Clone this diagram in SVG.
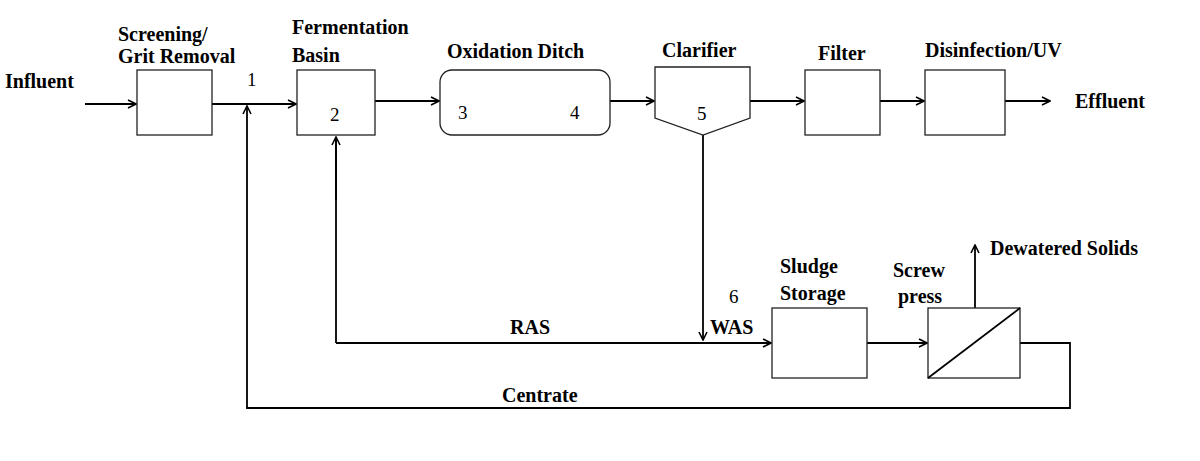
<svg xmlns="http://www.w3.org/2000/svg" width="1200" height="461" viewBox="0 0 1200 461">
<style>
.b{fill:#fff;stroke:#222;stroke-width:1.3}
.l{fill:none;stroke:#000;stroke-width:1.8;marker-end:url(#a)}
.n{fill:none;stroke:#000;stroke-width:1.8}
text{font-family:"Liberation Serif","Times New Roman","DejaVu Serif",serif;font-size:20px;font-weight:bold;fill:#000}
.r{font-weight:normal;font-size:19px}
</style>
<defs><marker id="a" markerWidth="10" markerHeight="10" refX="9" refY="5" orient="auto" markerUnits="userSpaceOnUse"><path d="M1,1 L9,5 L1,9" fill="none" stroke="#000" stroke-width="1.6"/></marker></defs>
<rect width="1200" height="461" fill="#fff"/>
<g id="connectors">
<path class="l" d="M85,104 H136"/>
<path class="l" d="M212,104 H296"/>
<path class="l" d="M375,101 H439"/>
<path class="l" d="M610,101 H654"/>
<path class="l" d="M750,101 H804"/>
<path class="l" d="M880,101 H924"/>
<path class="l" d="M1005,101 H1050"/>
<path class="l" d="M703,135 V340"/>
<path class="n" d="M336,343 V138"/><path class="l" d="M336,200 V137"/>
<path class="l" d="M336,343 H771"/>
<path class="l" d="M867,343 H927"/>
<path class="l" d="M975,308 V245"/>
<path class="n" d="M1020,343 H1070 V408 H247 V150"/><path class="l" d="M247,150 V106"/>
</g>
<g id="screening"><rect class="b" x="137" y="70" width="75" height="65"/><text x="118" y="41">Screening/</text><text x="118" y="63">Grit Removal</text><text class="r" x="247" y="86">1</text></g>
<g id="fermentation"><rect class="b" x="297" y="70" width="78" height="65"/><text x="292" y="34">Fermentation</text><text x="292" y="62">Basin</text><text class="r" x="330" y="121">2</text></g>
<g id="oxidation"><rect class="b" x="440" y="70" width="170" height="65" rx="12"/><text x="447" y="58">Oxidation Ditch</text><text class="r" x="458" y="119">3</text><text class="r" x="570" y="119">4</text></g>
<g id="clarifier"><path class="b" d="M655,67 H750 V118 L703,135 L655,118 Z"/><text x="662" y="57">Clarifier</text><text class="r" x="697" y="120">5</text></g>
<g id="filter"><rect class="b" x="805" y="70" width="75" height="65"/><text x="818" y="60">Filter</text></g>
<g id="disinfection"><rect class="b" x="925" y="70" width="80" height="65"/><text x="925" y="57">Disinfection/UV</text></g>
<g id="sludge"><rect class="b" x="772" y="308" width="95" height="70"/><text x="780" y="273">Sludge</text><text x="780" y="300">Storage</text></g>
<g id="press"><rect class="b" x="928" y="308" width="92" height="70"/><path class="n" d="M928,378 L1020,308" stroke-width="1.3"/><text x="893" y="277">Screw</text><text x="898" y="303">press</text></g>
<g id="labels">
<text x="5" y="88">Influent</text>
<text x="1075" y="108">Effluent</text>
<text x="990" y="255">Dewatered Solids</text>
<text class="r" x="729" y="303">6</text>
<text x="710" y="334">WAS</text>
<text x="510" y="334">RAS</text>
<text x="502" y="402">Centrate</text>
</g>
</svg>
